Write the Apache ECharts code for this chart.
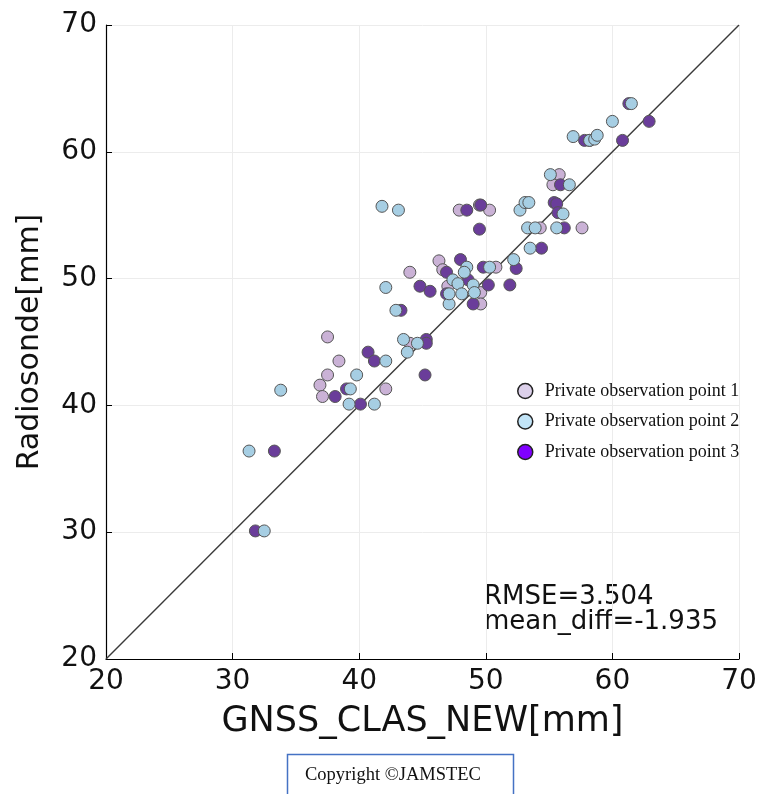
<!DOCTYPE html>
<html style="height: 100%">
<head>
  <meta charset="utf-8">
</head>
<body style="height: 100%; margin: 0; background: #fff">
  <div id="container" style="width: 763px; height: 794px"></div>

  <script type="text/javascript" src="https://cdn.jsdelivr.net/npm/echarts@6/dist/echarts.min.js"></script>
  <script type="text/javascript">
    // [GNSS_CLAS_NEW, Radiosonde] in mm
    var point1 = [
      [37.5,45.4],[38.4,43.5],[37.5,42.4],[36.9,41.6],[37.1,40.7],[42.1,41.3],[44.0,44.9],
      [47.9,55.4],[49.5,55.8],[50.3,55.4],[54.3,54.0],[57.6,54.0],[55.8,58.2],[55.3,57.4],
      [46.3,51.4],[44.0,50.5],[50.8,50.9],[49.6,48.9],[49.6,48.0],[47.0,49.4],[46.6,50.7]
    ];
    var point2 = [
      [33.8,41.2],[31.3,36.4],[32.5,30.1],[39.3,41.3],[39.2,40.1],[41.2,40.1],[39.8,42.4],
      [42.1,43.5],[43.5,45.2],[43.8,44.2],[44.6,44.9],[42.9,47.5],[47.1,48.0],[41.8,55.7],
      [43.1,55.4],[42.1,49.3],[52.7,55.4],[53.1,56.0],[53.4,56.0],[56.1,55.1],[53.3,54.0],
      [53.9,54.0],[55.6,54.0],[53.5,52.4],[52.2,51.5],[50.3,50.9],[48.5,50.9],[48.3,50.5],
      [47.4,49.9],[47.8,49.6],[49.0,49.5],[47.1,48.8],[48.1,48.8],[49.1,48.9],[61.5,63.8],
      [60.0,62.4],[56.9,61.2],[58.2,60.9],[58.6,61.0],[58.8,61.3],[55.1,58.2],[56.6,57.4]
    ];
    var point3 = [
      [33.3,36.4],[31.8,30.1],[38.1,40.7],[39.0,41.3],[40.1,40.1],[40.7,44.2],[41.2,43.5],
      [45.2,42.4],[45.3,45.2],[45.3,44.9],[43.3,47.5],[49.0,48.0],[48.5,55.4],[49.6,55.8],
      [49.5,53.9],[55.4,56.0],[55.6,55.9],[55.7,55.2],[56.2,54.0],[54.4,52.4],[52.4,50.8],
      [49.8,50.9],[48.0,51.5],[46.9,50.5],[44.8,49.4],[45.6,49.0],[48.6,49.9],[50.2,49.5],
      [51.9,49.5],[46.9,48.8],[61.3,63.8],[62.9,62.4],[57.8,60.9],[58.2,60.9],[60.8,60.9],
      [55.9,57.4]
    ];
    var diagonal = [[20, 20], [70, 70]];
    var names = ['Private observation point 1', 'Private observation point 2', 'Private observation point 3'];

    var dom = document.getElementById("container");
    var myChart = echarts.init(dom);

    var font = 'DejaVu Sans';
    var serif = 'Liberation Serif';

    function axis(name, gap, nameSize) {
      return {
        type: 'value',
        min: 20,
        max: 70,
        interval: 10,
        name: name,
        nameLocation: 'middle',
        nameGap: gap,
        nameTextStyle: { fontFamily: font, fontSize: nameSize, color: '#111' },
        axisLine: { show: true, lineStyle: { color: '#000', width: 1.2 } },
        axisTick: { show: true, inside: true, length: 6, lineStyle: { color: '#000' } },
        axisLabel: { fontFamily: font, fontSize: 28, color: '#111', margin: 9 },
        splitLine: { show: true, lineStyle: { color: '#ececec', width: 1 } }
      };
    }

    function scatter(name, data, color) {
      return {
        name: name,
        type: 'scatter',
        data: data,
        symbolSize: 12,
        itemStyle: { color: color, borderColor: '#555', borderWidth: 1, opacity: 1 },
        z: 3
      };
    }

    var option = {
      animation: false,
      grid: { left: 106, right: 24, top: 25, bottom: 135 },
      xAxis: axis('GNSS_CLAS_NEW[mm]', 45, 35),
      yAxis: axis('Radiosonde[mm]', 61, 30),
      legend: {
        orient: 'vertical',
        left: 517,
        top: 382,
        padding: 0,
        itemWidth: 15,
        itemHeight: 15,
        itemGap: 12.5,
        icon: 'circle',
        textStyle: { fontFamily: serif, fontSize: 18, color: '#111', padding: [0, 0, 0, 7] },
        data: [
          { name: names[0], itemStyle: { color: '#dcd0ea', borderColor: '#222', borderWidth: 1.5 } },
          { name: names[1], itemStyle: { color: '#c2e4f7', borderColor: '#222', borderWidth: 1.5 } },
          { name: names[2], itemStyle: { color: '#8000ff', borderColor: '#222', borderWidth: 1.5 } }
        ]
      },
      graphic: [
        { type: 'text', left: 484, top: 584, style: { text: 'RMSE=3.504', font: '26px "DejaVu Sans"', fill: '#111' } },
        { type: 'text', left: 484, top: 609, style: { text: 'mean_diff=-1.935', font: '26px "DejaVu Sans"', fill: '#111' } },
        { type: 'rect', shape: { x: 287.5, y: 754.5, width: 226, height: 50 }, style: { fill: '#fff', stroke: '#4472c4', lineWidth: 1.5 } },
        { type: 'text', left: 305, top: 766, style: { text: 'Copyright \u00a9JAMSTEC', font: '18.5px "Liberation Serif"', fill: '#111' } }
      ],
      series: [
        {
          type: 'line',
          data: diagonal,
          symbol: 'none',
          silent: true,
          lineStyle: { color: '#3a3a3a', width: 1.4 },
          z: 2
        },
        scatter(names[0], point1, '#cab2d6'),
        scatter(names[2], point3, '#6a3d9a'),
        scatter(names[1], point2, '#a6cee3')
      ]
    };

    myChart.setOption(option);
  </script>
</body>
</html>
